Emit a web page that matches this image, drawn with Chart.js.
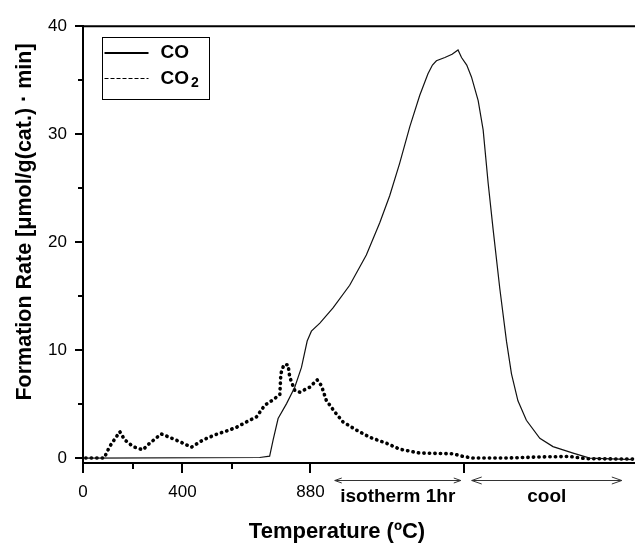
<!DOCTYPE html>
<html><head><meta charset="utf-8">
<script src="https://cdn.jsdelivr.net/npm/chart.js@4.4.0/dist/chart.umd.min.js"></script>
<style>html,body{margin:0;padding:0;background:#fff;} canvas{display:block;}</style>
</head><body>
<canvas id="c" width="635" height="543" style="width:635px;height:543px"></canvas>
<script>
// Time axis (min) with temperature tick labels
const coTime  = [1.1, 71.1, 75.1, 76.5, 78.5, 81.9, 85.2, 87.9, 90.2, 91.9, 95.3, 100.6, 107.3, 114.0, 119.4, 123.4, 127.4, 131.5, 135.5, 138.8, 140.6, 142.2, 145.6, 148.5, 150.9, 152.3, 154.4, 156.3, 159.0, 161.0, 163.0, 165.0, 167.7, 170.4, 172.4, 175.0, 178.4, 183.8, 189.1, 197.2, 203.9, 221.5];
const coRate  = [0, 0.05, 0.18, 1.68, 3.66, 5.04, 6.56, 8.39, 10.84, 11.75, 12.5, 13.9, 16.0, 18.8, 21.8, 24.3, 27.3, 30.7, 33.6, 35.6, 36.4, 36.8, 37.1, 37.4, 37.8, 37.1, 36.4, 35.3, 33.1, 30.4, 25.5, 21.2, 15.7, 10.8, 7.8, 5.3, 3.5, 1.83, 1.06, 0.46, 0.0, -0.15];
const co2Time = [1.1, 8.5, 10.7, 14.8, 16.8, 20.1, 24.1, 26.8, 31.5, 34.2, 38.9, 43.6, 48.3, 53.7, 57.7, 61.7, 65.8, 69.8, 73.1, 76.5, 79.2, 79.6, 80.8, 82.5, 83.2, 85.2, 87.2, 91.2, 94.2, 95.9, 97.9, 101.3, 104.6, 110.0, 115.4, 122.1, 127.4, 135.5, 148.9, 152.9, 156.9, 170.4, 182.5, 195.8, 202.6, 221.5];
const co2Rate = [0, 0, 1.06, 2.44, 1.68, 1.06, 0.76, 1.37, 2.23, 1.98, 1.52, 1.0, 1.68, 2.2, 2.5, 2.84, 3.35, 3.81, 4.88, 5.4, 5.89, 7.8, 8.64, 8.64, 7.48, 6.26, 6.1, 6.56, 7.24, 6.72, 5.34, 4.27, 3.35, 2.59, 1.92, 1.37, 0.82, 0.46, 0.39, 0.15, 0.0, 0.0, 0.09, 0.15, -0.06, -0.1];

const seriesNames = ['CO', 'CO₂'];
const xTickValues = [0, 20, 40, 60, 91.5, 153.3];
const xTickLabels = ['0', '', '400', '', '880', ''];
const xTickMajor  = [true, false, true, false, true, true];
const yTickValues = [0, 5, 10, 15, 20, 25, 30, 35, 40];
const yTickLabels = ['0', '', '10', '', '20', '', '30', '', '40'];
const phaseLabels = ['isotherm 1hr', 'cool'];
const phaseStart  = [101.3, 156.4];
const phaseEnd    = [152.0, 216.8];
const xTitle = 'Temperature (ºC)';
const yTitle = 'Formation Rate [μmol/g(cat.) · min]';

const FONT = '"Liberation Sans", Arial, sans-serif';

const toPts = (xs, ys) => xs.map((x, i) => ({x, y: ys[i]}));

const decor = {
  id: 'decor',
  afterDraw(chart) {
    const ctx = chart.ctx, a = chart.chartArea;
    const xs = chart.scales.x, ys = chart.scales.y;
    ctx.save();
    ctx.strokeStyle = '#000';
    // top frame line
    ctx.lineWidth = 2;
    ctx.beginPath(); ctx.moveTo(a.left - 1, a.top); ctx.lineTo(chart.width, a.top); ctx.stroke();
    // x tick marks
    ctx.lineWidth = 2;
    xTickValues.forEach((v, i) => {
      const px = Math.round(xs.getPixelForValue(v));
      const len = xTickMajor[i] ? 10 : 6;
      ctx.beginPath(); ctx.moveTo(px, a.bottom); ctx.lineTo(px, a.bottom + len); ctx.stroke();
    });
    // y tick marks
    yTickValues.forEach((v, i) => {
      const py = Math.round(ys.getPixelForValue(v));
      const len = yTickLabels[i] ? 8 : 5;
      ctx.beginPath(); ctx.moveTo(a.left, py); ctx.lineTo(a.left - len, py); ctx.stroke();
    });
    // phase arrows
    ctx.lineWidth = 1;
    ctx.strokeStyle = '#333';
    const ay = a.bottom + 17.5;
    phaseLabels.forEach((lab, i) => {
      const x1 = xs.getPixelForValue(phaseStart[i]);
      const x2 = xs.getPixelForValue(phaseEnd[i]);
      const hl = i === 0 ? 7 : 10, hw = i === 0 ? 2.5 : 3.5;
      ctx.beginPath();
      ctx.moveTo(x1, ay); ctx.lineTo(x2, ay);
      ctx.moveTo(x1 + hl, ay - hw); ctx.lineTo(x1, ay); ctx.lineTo(x1 + hl, ay + hw);
      ctx.moveTo(x2 - hl, ay - hw); ctx.lineTo(x2, ay); ctx.lineTo(x2 - hl, ay + hw);
      ctx.stroke();
      ctx.fillStyle = '#000';
      ctx.font = 'bold 19px ' + FONT;
      ctx.textAlign = 'center'; ctx.textBaseline = 'middle';
      ctx.fillText(lab, (x1 + x2) / 2, a.bottom + 34);
    });
    // axis titles
    ctx.fillStyle = '#000';
    ctx.font = 'bold 22px ' + FONT;
    ctx.textAlign = 'center'; ctx.textBaseline = 'middle';
    ctx.fillText(xTitle, 337, 532);
    ctx.save();
    ctx.translate(25, 222);
    ctx.rotate(-Math.PI / 2);
    ctx.font = 'bold 21.5px ' + FONT;
    ctx.fillText(yTitle, 0, 0);
    ctx.restore();
    // legend
    const lx = a.left + 18.5, ly = a.top + 10.5, lw = 107, lh = 62;
    ctx.lineWidth = 1; ctx.strokeStyle = '#000';
    ctx.strokeRect(Math.round(lx) + 0.5, Math.round(ly) + 0.5, lw, lh);
    chart.data.datasets.forEach((ds, i) => {
      const yy = ly + 16 + i * 25.7;
      ctx.save();
      ctx.strokeStyle = '#000';
      if (i === 0) { ctx.lineWidth = 2; ctx.setLineDash([]); }
      else { ctx.lineWidth = 1; ctx.setLineDash([4, 2]); }
      ctx.beginPath(); ctx.moveTo(lx + 3, Math.round(yy) + (i === 0 ? 0 : 0.5)); ctx.lineTo(lx + 47, Math.round(yy) + (i === 0 ? 0 : 0.5)); ctx.stroke();
      ctx.restore();
      const name = ds.label;
      ctx.textAlign = 'left'; ctx.textBaseline = 'middle';
      ctx.font = 'bold 19px ' + FONT;
      const main = name.replace('₂', '');
      ctx.fillText(main, lx + 59, yy);
      if (name.includes('₂')) {
        const w = ctx.measureText(main).width;
        ctx.font = 'bold 14px ' + FONT;
        ctx.fillText('2', lx + 59 + w + 2, yy + 5);
      }
    });
    ctx.restore();
  }
};

new Chart(document.getElementById('c'), {
  type: 'line',
  data: {
    datasets: [
      { label: seriesNames[0], data: toPts(coTime, coRate), borderColor: '#111', borderWidth: 1.2,
        pointRadius: 0, tension: 0, fill: false },
      { label: seriesNames[1], data: toPts(co2Time, co2Rate), borderColor: '#000', borderWidth: 3.6,
        borderDash: [0.3, 5.2], borderCapStyle: 'round', pointRadius: 0, tension: 0, fill: false }
    ]
  },
  options: {
    responsive: false,
    devicePixelRatio: 1,
    animation: false,
    layout: { padding: { left: 0, right: 0, top: 22, bottom: 0 } },
    plugins: { legend: { display: false }, tooltip: { enabled: false } },
    scales: {
      x: {
        type: 'linear', min: 0, max: 222.1,
        afterBuildTicks: s => { s.ticks = xTickValues.map(v => ({ value: v })); },
        afterFit: s => { s.height = 80; },
        grid: { display: false, drawTicks: false },
        border: { display: true, color: '#000', width: 2 },
        ticks: { autoSkip: false, maxRotation: 0, padding: 19, color: '#000',
          font: { family: FONT, size: 17 },
          callback: (v, i) => xTickLabels[i] }
      },
      y: {
        type: 'linear', min: -0.46, max: 40,
        afterBuildTicks: s => { s.ticks = yTickValues.map(v => ({ value: v })); },
        afterFit: s => { s.width = 83; },
        grid: { display: false, drawTicks: false },
        border: { display: true, color: '#000', width: 2 },
        ticks: { autoSkip: false, padding: 16, color: '#000',
          font: { family: FONT, size: 17 },
          callback: (v, i) => yTickLabels[i] }
      }
    }
  },
  plugins: [decor]
});
</script>
</body></html>
